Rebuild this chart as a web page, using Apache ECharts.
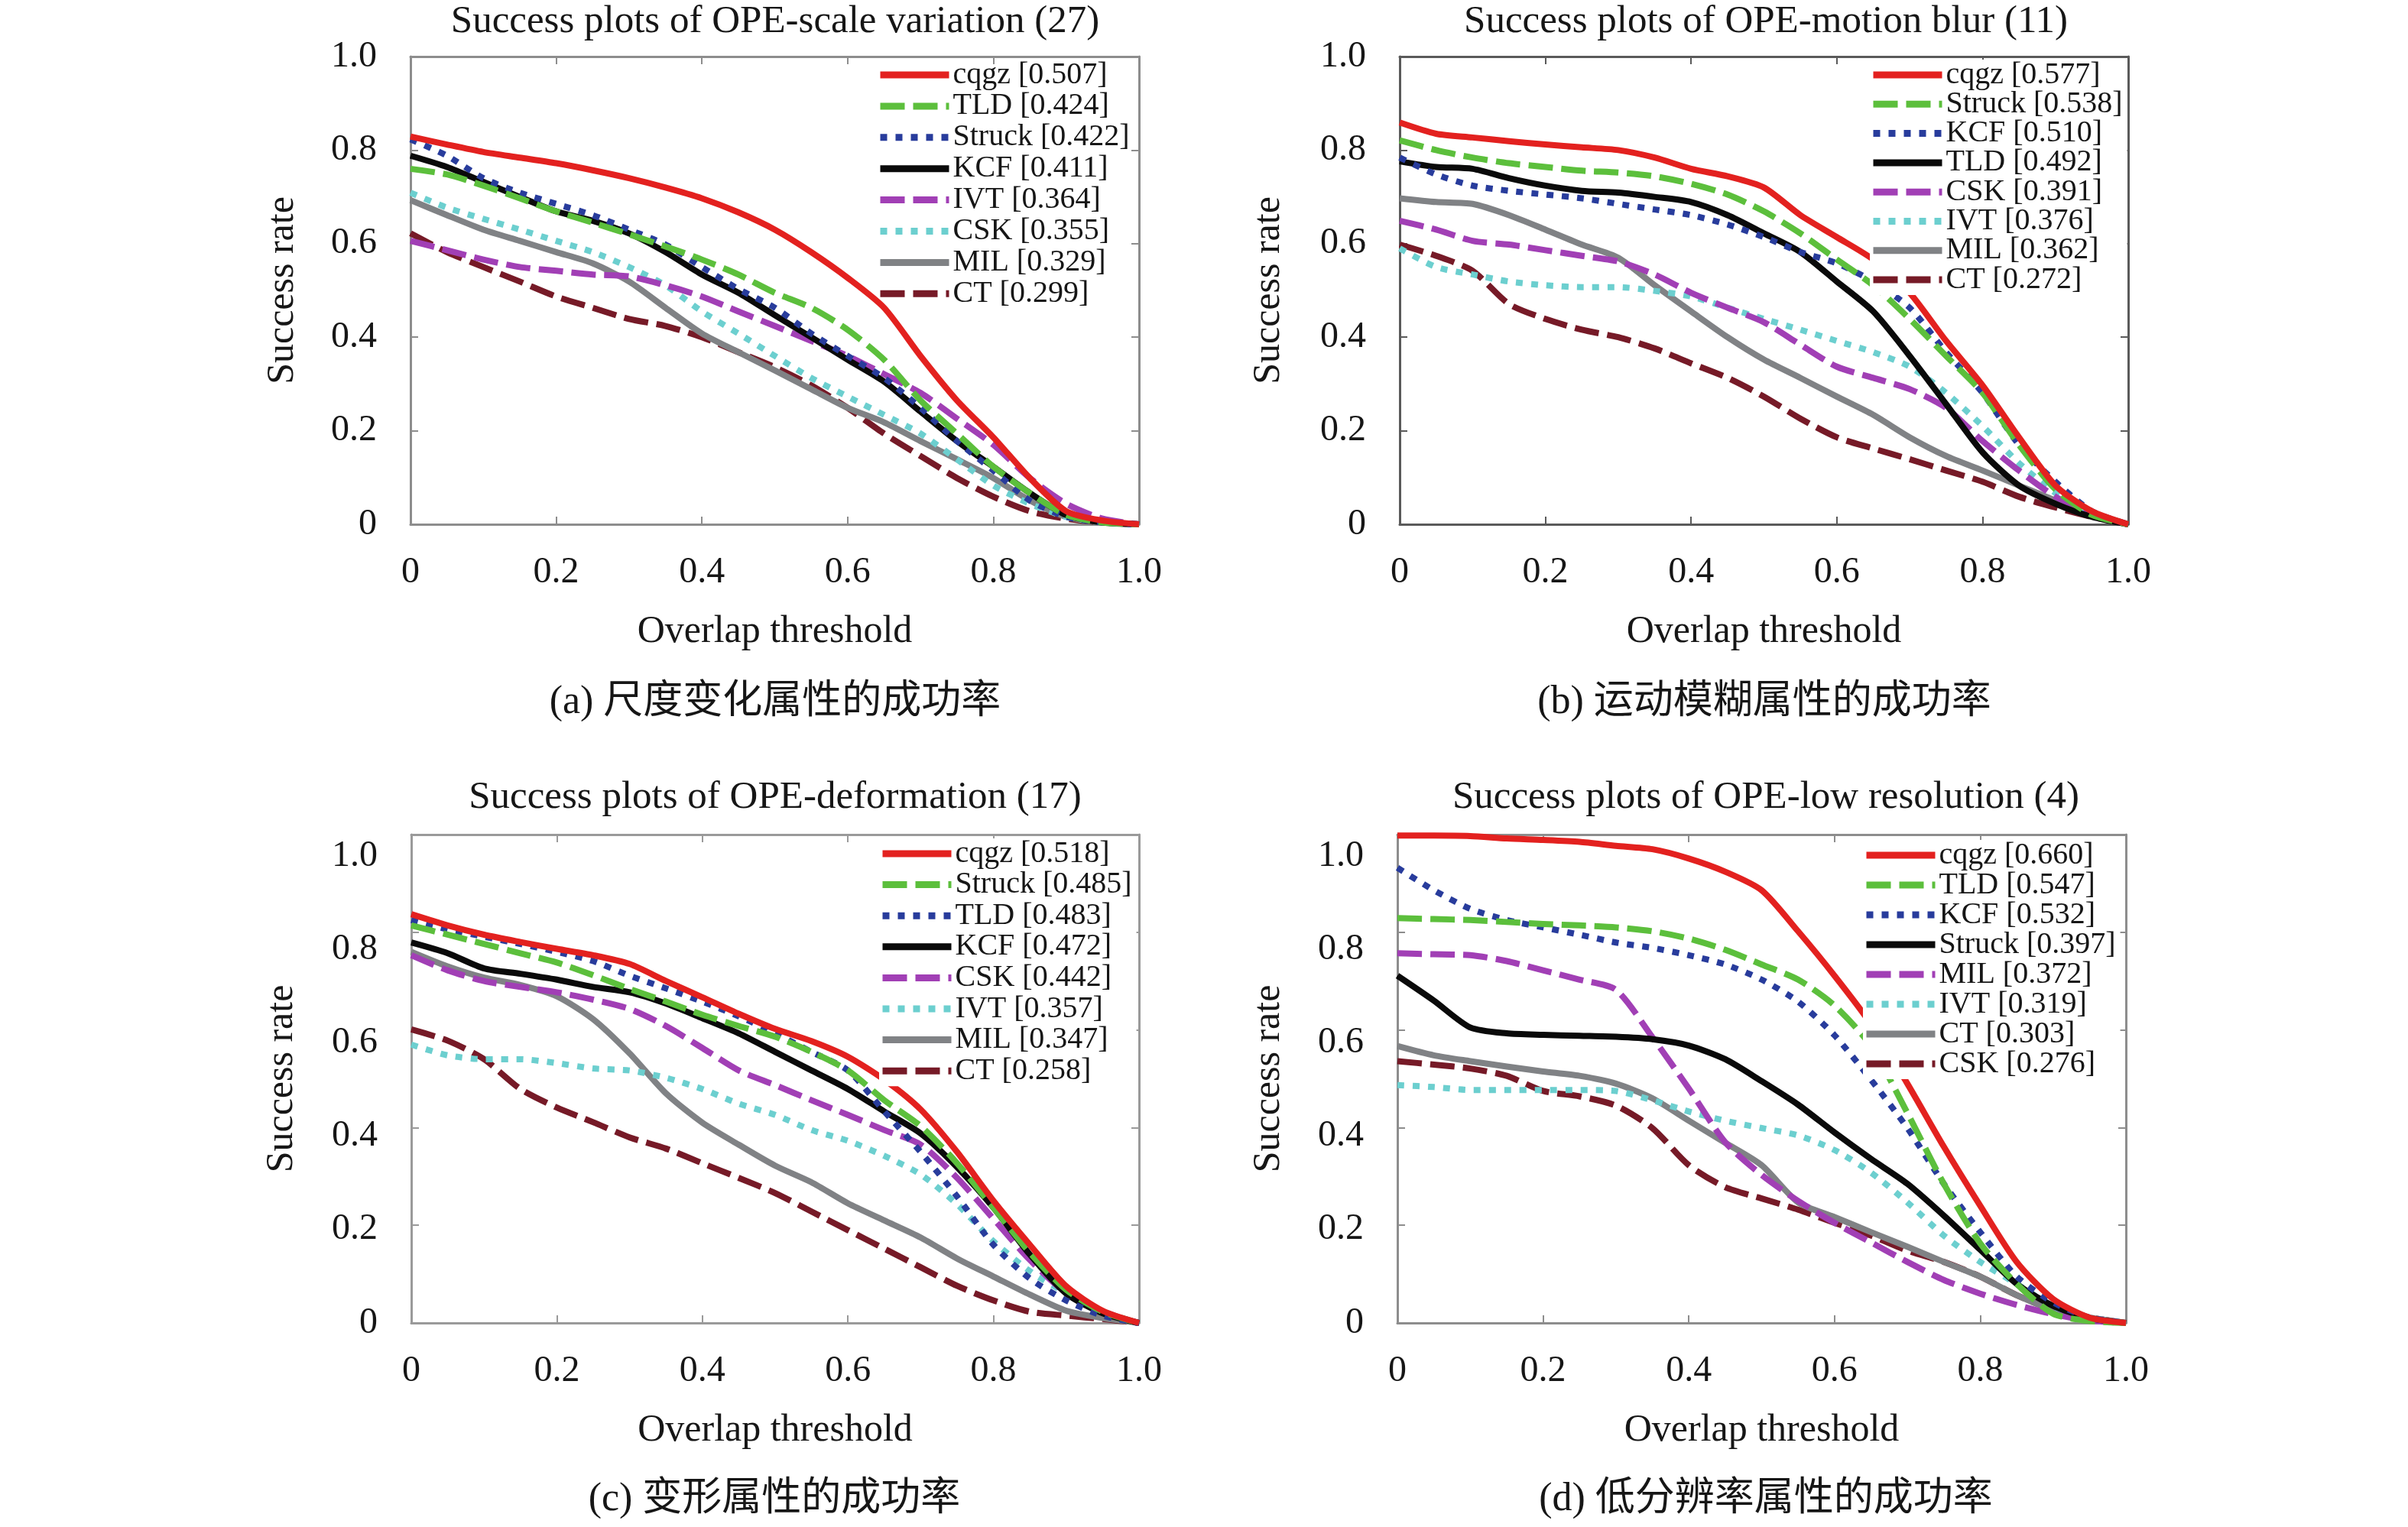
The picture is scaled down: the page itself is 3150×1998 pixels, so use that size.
<!DOCTYPE html>
<html><head><meta charset="utf-8">
<script src="https://cdn.jsdelivr.net/npm/echarts@6/dist/echarts.min.js"></script>
<style>html,body{margin:0;padding:0;background:#fff}#c{width:3150px;height:1998px}</style>
</head><body><div id="c"></div>
<script>
// ---------- data ----------
const thresholds = [0,0.05,0.1,0.15,0.2,0.25,0.3,0.35,0.4,0.45,0.5,0.55,0.6,0.65,0.7,0.75,0.8,0.85,0.9,0.95,1.0];
const tickLabels = ['0','0.2','0.4','0.6','0.8','1.0'];

// (a) scale variation
const svNames = ['cqgz [0.507]','TLD [0.424]','Struck [0.422]','KCF [0.411]','IVT [0.364]','CSK [0.355]','MIL [0.329]','CT [0.299]'];
const svCqgz   = [0.829,0.812,0.796,0.784,0.772,0.757,0.740,0.720,0.697,0.667,0.630,0.582,0.527,0.463,0.360,0.265,0.186,0.099,0.028,0.008,0];
const svTLD    = [0.760,0.748,0.724,0.697,0.669,0.645,0.620,0.594,0.566,0.534,0.495,0.463,0.416,0.352,0.265,0.194,0.123,0.067,0.020,0.004,0];
const svStruck = [0.823,0.788,0.740,0.709,0.685,0.661,0.630,0.598,0.550,0.503,0.463,0.408,0.360,0.313,0.249,0.178,0.115,0.051,0.016,0.004,0];
const svKCF    = [0.788,0.764,0.732,0.700,0.669,0.649,0.622,0.582,0.534,0.495,0.447,0.400,0.352,0.305,0.241,0.178,0.123,0.067,0.020,0.004,0];
const svIVT    = [0.606,0.586,0.566,0.550,0.542,0.534,0.530,0.511,0.487,0.455,0.424,0.392,0.360,0.321,0.281,0.226,0.170,0.099,0.044,0.012,0];
const svCSK    = [0.709,0.677,0.653,0.630,0.606,0.582,0.550,0.511,0.455,0.408,0.360,0.313,0.273,0.234,0.194,0.139,0.083,0.044,0.016,0.004,0];
const svMIL    = [0.693,0.661,0.630,0.606,0.582,0.558,0.519,0.463,0.408,0.368,0.329,0.289,0.249,0.218,0.178,0.139,0.099,0.051,0.016,0.004,0];
const svCT     = [0.622,0.582,0.550,0.519,0.487,0.463,0.439,0.424,0.400,0.368,0.336,0.297,0.249,0.194,0.146,0.099,0.059,0.028,0.012,0.004,0];

// (b) motion blur
const mbNames = ['cqgz [0.577]','Struck [0.538]','KCF [0.510]','TLD [0.492]','CSK [0.391]','IVT [0.376]','MIL [0.362]','CT [0.272]'];
const mbCqgz   = [0.859,0.835,0.827,0.819,0.812,0.806,0.800,0.784,0.760,0.744,0.720,0.661,0.614,0.566,0.495,0.392,0.297,0.186,0.083,0.028,0];
const mbStruck = [0.821,0.800,0.784,0.772,0.764,0.756,0.752,0.744,0.728,0.705,0.669,0.622,0.566,0.511,0.439,0.360,0.281,0.170,0.075,0.020,0];
const mbKCF    = [0.784,0.748,0.724,0.713,0.705,0.697,0.685,0.673,0.661,0.641,0.614,0.582,0.558,0.519,0.463,0.368,0.281,0.170,0.091,0.028,0];
const mbTLD    = [0.776,0.764,0.760,0.740,0.724,0.713,0.709,0.700,0.689,0.661,0.622,0.582,0.519,0.455,0.360,0.257,0.154,0.083,0.044,0.016,0];
const mbCSK    = [0.649,0.630,0.606,0.598,0.586,0.574,0.562,0.534,0.495,0.463,0.432,0.384,0.337,0.313,0.289,0.249,0.178,0.115,0.059,0.020,0];
const mbIVT    = [0.590,0.550,0.534,0.519,0.511,0.507,0.507,0.499,0.487,0.463,0.439,0.416,0.392,0.368,0.337,0.281,0.210,0.131,0.067,0.020,0];
const mbMIL    = [0.697,0.689,0.685,0.661,0.630,0.598,0.570,0.511,0.455,0.400,0.352,0.313,0.273,0.234,0.186,0.146,0.115,0.083,0.051,0.024,0];
const mbCT     = [0.598,0.574,0.542,0.471,0.439,0.416,0.400,0.376,0.344,0.313,0.273,0.226,0.186,0.162,0.139,0.115,0.091,0.059,0.036,0.016,0];

// (c) deformation
const dfNames = ['cqgz [0.518]','Struck [0.485]','TLD [0.483]','KCF [0.472]','CSK [0.442]','IVT [0.357]','MIL [0.347]','CT [0.258]'];
const dfCqgz   = [0.837,0.814,0.795,0.780,0.766,0.753,0.735,0.700,0.667,0.633,0.602,0.577,0.545,0.498,0.437,0.350,0.250,0.160,0.075,0.025,0];
const dfStruck = [0.814,0.795,0.776,0.757,0.738,0.712,0.684,0.658,0.631,0.608,0.586,0.555,0.517,0.456,0.403,0.327,0.236,0.144,0.068,0.023,0];
const dfTLD    = [0.825,0.806,0.791,0.776,0.760,0.741,0.711,0.685,0.658,0.628,0.593,0.555,0.517,0.433,0.350,0.259,0.160,0.091,0.046,0.015,0];
const dfKCF    = [0.779,0.757,0.726,0.715,0.703,0.688,0.677,0.654,0.624,0.593,0.555,0.517,0.479,0.433,0.388,0.319,0.236,0.140,0.060,0.020,0];
const dfCSK    = [0.753,0.722,0.700,0.688,0.677,0.662,0.643,0.608,0.563,0.517,0.487,0.456,0.426,0.395,0.365,0.297,0.213,0.129,0.061,0.023,0];
const dfIVT    = [0.570,0.548,0.540,0.540,0.532,0.521,0.517,0.502,0.479,0.449,0.426,0.395,0.373,0.342,0.304,0.243,0.167,0.106,0.061,0.023,0];
const dfMIL    = [0.760,0.730,0.707,0.692,0.669,0.622,0.552,0.470,0.410,0.365,0.322,0.288,0.245,0.210,0.175,0.132,0.095,0.058,0.025,0.010,0];
const dfCT     = [0.601,0.578,0.540,0.479,0.441,0.411,0.380,0.357,0.327,0.297,0.266,0.228,0.190,0.152,0.114,0.076,0.046,0.023,0.015,0.008,0];

// (d) low resolution
const lrNames = ['cqgz [0.660]','TLD [0.547]','KCF [0.532]','Struck [0.397]','MIL [0.372]','IVT [0.319]','CT [0.303]','CSK [0.276]'];
const lrCqgz   = [0.998,0.998,0.997,0.992,0.989,0.985,0.977,0.970,0.951,0.924,0.886,0.802,0.711,0.612,0.490,0.361,0.240,0.125,0.049,0.011,0];
const lrTLD    = [0.829,0.827,0.825,0.821,0.817,0.814,0.810,0.802,0.787,0.764,0.734,0.703,0.650,0.567,0.430,0.285,0.163,0.080,0.019,0.004,0];
const lrKCF    = [0.932,0.886,0.848,0.825,0.810,0.795,0.779,0.768,0.753,0.734,0.703,0.658,0.589,0.498,0.399,0.285,0.186,0.095,0.042,0.011,0];
const lrStruck = [0.711,0.660,0.605,0.593,0.590,0.588,0.586,0.581,0.568,0.540,0.495,0.447,0.390,0.336,0.285,0.220,0.150,0.080,0.035,0.010,0];
const lrMIL    = [0.757,0.755,0.753,0.741,0.722,0.703,0.682,0.585,0.480,0.370,0.303,0.250,0.205,0.165,0.125,0.088,0.060,0.037,0.018,0.005,0];
const lrIVT    = [0.487,0.483,0.477,0.477,0.477,0.477,0.475,0.456,0.433,0.414,0.399,0.384,0.354,0.308,0.247,0.179,0.125,0.080,0.034,0.011,0];
const lrCT     = [0.567,0.548,0.536,0.525,0.515,0.506,0.490,0.460,0.414,0.369,0.323,0.247,0.217,0.186,0.156,0.125,0.095,0.057,0.027,0.011,0];
const lrCSK    = [0.536,0.529,0.521,0.506,0.475,0.464,0.445,0.399,0.323,0.278,0.255,0.232,0.205,0.179,0.148,0.125,0.095,0.057,0.027,0.011,0];

// ---------- styling ----------
const SERIF = '"Liberation Serif", "Times New Roman", serif';
const CAPFONT = '"Liberation Serif", "Noto Sans CJK SC", serif';
const rankColors = ['#e3211f','#5cbf3c','#283c9c','#0a0a0a','#a13fb5','#6ccfcf','#808285','#761a27'];
const DASH = [32, 11], DOT = [9, 11];
const rankTypes = ['solid', DASH, DOT, 'solid', DASH, DOT, 'solid', DASH];

const panels = [
  { title:'Success plots of OPE-scale variation (27)', caption:'(a) 尺度变化属性的成功率',
    names: svNames, values:[svCqgz,svTLD,svStruck,svKCF,svIVT,svCSK,svMIL,svCT],
    box:[537,74,953,612], axisColor:'#8d8d8d', legendPos:[1147,78], legendGap:0.9, legendBg:'transparent',
    titleXY:[1014,29], captionXY:[1014,919], xLabelMargin:39, xNameGap:116, yNameGap:142, shift:false },
  { title:'Success plots of OPE-motion blur (11)', caption:'(b) 运动模糊属性的成功率',
    names: mbNames, values:[mbCqgz,mbStruck,mbKCF,mbTLD,mbCSK,mbIVT,mbMIL,mbCT],
    box:[1831,74,953,612], axisColor:'#5a5a5a', legendPos:[2446,78], legendGap:-1.7, legendBg:'#ffffff',
    titleXY:[2310,29], captionXY:[2308,919], xLabelMargin:39, xNameGap:116, yNameGap:146, shift:false },
  { title:'Success plots of OPE-deformation (17)', caption:'(c) 变形属性的成功率',
    names: dfNames, values:[dfCqgz,dfStruck,dfTLD,dfKCF,dfCSK,dfIVT,dfMIL,dfCT],
    box:[538,1092,952,639], axisColor:'#9a9a9a', legendPos:[1150,1097], legendGap:0.6, legendBg:'#ffffff',
    titleXY:[1014,1044], captionXY:[1013,1962], xLabelMargin:39, xNameGap:116, yNameGap:144, shift:true },
  { title:'Success plots of OPE-low resolution (4)', caption:'(d) 低分辨率属性的成功率',
    names: lrNames, values:[lrCqgz,lrTLD,lrKCF,lrStruck,lrMIL,lrIVT,lrCT,lrCSK],
    box:[1828,1092,953,639], axisColor:'#8d8d8d', legendPos:[2437,1099], legendGap:-1.0, legendBg:'#ffffff',
    titleXY:[2310,1044], captionXY:[2310,1962], xLabelMargin:39, xNameGap:116, yNameGap:143, shift:true }
];

function fmtTick(v) {
  const i = Math.round(v * 5);
  if (Math.abs(v * 5 - i) > 1e-6 || i < 0 || i > 5) return '';
  return tickLabels[i];
}

const grids = [], xAxes = [], yAxes = [], series = [], legends = [], texts = [];
const labelAxes = [];
panels.forEach((p, g) => {
  grids.push({ left:p.box[0], top:p.box[1], width:p.box[2], height:p.box[3], containLabel:false, outerBoundsMode:'none' });
  const axisLine = { show:true, onZero:false, lineStyle:{ color:p.axisColor, width:3 } };
  const axisTick = { show:true, inside:true, length:10, lineStyle:{ color:p.axisColor, width:2 } };
  const lab = { fontFamily:SERIF, fontSize:48, color:'#161616' };
  xAxes.push({ type:'value', gridIndex:g, min:0, max:1, interval:0.2, position:'bottom', axisLine, axisTick,
    splitLine:{show:false}, axisLabel:Object.assign({ margin:p.xLabelMargin, formatter:fmtTick }, lab),
    name:'Overlap threshold', nameLocation:'middle', nameGap:p.xNameGap,
    nameTextStyle:{ fontFamily:SERIF, fontSize:50, color:'#161616' } });
  xAxes.push({ type:'value', gridIndex:g, min:0, max:1, interval:0.2, position:'top', axisLine, axisTick,
    splitLine:{show:false}, axisLabel:{show:false} });
  yAxes.push({ type:'value', gridIndex:g, min:0, max:1, interval:0.2, position:'left', axisLine, axisTick,
    splitLine:{show:false},
    axisLabel: p.shift ? {show:false} : Object.assign({ margin:44, formatter:fmtTick }, lab),
    name:'Success rate', nameLocation:'middle', nameGap:p.yNameGap,
    nameTextStyle:{ fontFamily:SERIF, fontSize:50, color:'#161616' } });
  yAxes.push({ type:'value', gridIndex:g, min:0, max:1, interval:0.2, position:'right', axisLine, axisTick,
    splitLine:{show:false}, axisLabel:{show:false} });
  if (p.shift) {
    labelAxes.push({ type:'value', gridIndex:g, min:0, max:1.046, interval:0.2, position:'left',
      axisLine:{show:false}, axisTick:{show:false}, splitLine:{show:false},
      axisLabel:Object.assign({ margin:44, formatter:fmtTick, showMaxLabel:false }, lab) });
  }
  // series drawn in reverse rank order so the best tracker is on top
  for (let k = p.names.length - 1; k >= 0; k--) {
    series.push({
      type:'line', name:p.names[k], xAxisIndex:2*g, yAxisIndex:2*g,
      data: thresholds.map((x, i) => [x, p.values[k][i]]),
      symbol:'none', showSymbol:false, smooth:0.25, clip:true, animation:false,
      itemStyle:{ color:rankColors[k] },
      lineStyle:{ color:rankColors[k], width:8, type:rankTypes[k], cap:'butt', join:'round' },
      emphasis:{ disabled:true }
    });
  }
  legends.push({
    orient:'vertical', left:p.legendPos[0], top:p.legendPos[1], data:p.names,
    itemWidth:90, itemHeight:10, itemGap:p.legendGap, padding:[0,6,0,0],
    backgroundColor:p.legendBg, selectedMode:false,
    itemStyle:{ opacity:0 },
    lineStyle:{ width:9, cap:'butt' },
    textStyle:{ fontFamily:SERIF, fontSize:40, lineHeight:40, color:'#161616' }
  });
  texts.push({ type:'text', x:p.titleXY[0], y:p.titleXY[1],
    style:{ text:p.title, font:'51px ' + SERIF, fill:'#161616', align:'center', verticalAlign:'middle', textAlign:'center', textVerticalAlign:'middle' } });
  texts.push({ type:'text', x:p.captionXY[0], y:p.captionXY[1],
    style:{ text:p.caption, font:'52px ' + CAPFONT, fill:'#161616', align:'center', verticalAlign:'middle', textAlign:'center', textVerticalAlign:'middle' } });
});
labelAxes.forEach(a => yAxes.push(a));

const chart = echarts.init(document.getElementById('c'), null, { renderer:'canvas', width:3150, height:1998, devicePixelRatio:1 });
chart.setOption({
  animation:false,
  backgroundColor:'#ffffff',
  grid: grids,
  xAxis: xAxes,
  yAxis: yAxes,
  legend: legends,
  series: series,
  graphic: { elements: texts }
});
</script>
</body></html>
